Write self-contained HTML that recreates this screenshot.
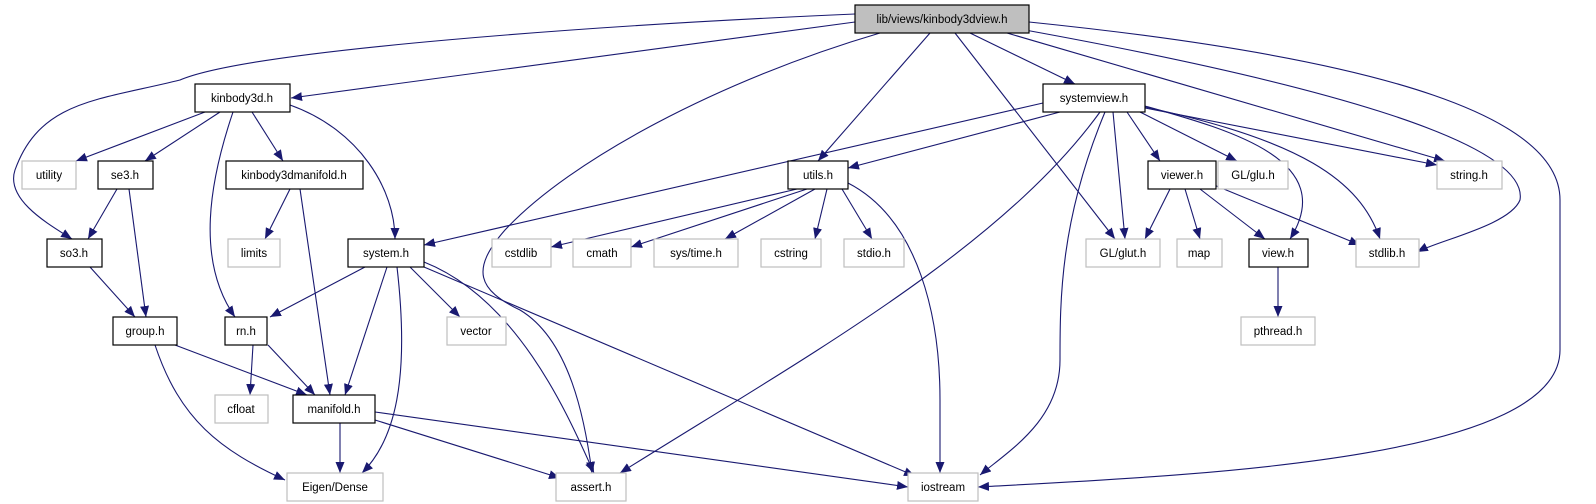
<!DOCTYPE html>
<html><head><meta charset="utf-8"><style>html,body{margin:0;padding:0;background:#fff}svg{display:block}</style></head>
<body>
<svg width="1596" height="504" viewBox="0 0 1596 504" xmlns="http://www.w3.org/2000/svg">
<defs><marker id="a" markerWidth="11" markerHeight="9" refX="11" refY="4.5" orient="auto" markerUnits="userSpaceOnUse"><path d="M0,0 L11,4.5 L0,9 z" fill="#191970"/></marker></defs>
<g fill="none" stroke="#191970" stroke-width="1.1" marker-end="url(#a)">
<path d="M855,22 L291,98"/>
<path d="M855,14 C600,25 250,50 180,80 C100,100 40,100 15,170 C5,200 50,225 72,239"/>
<path d="M880,33 C720,80 570,160 505,230 C470,270 478,290 520,310 C570,340 585,420 592,473"/>
<path d="M930,33 L818,161"/>
<path d="M955,33 L1115,239"/>
<path d="M970,33 L1075,84"/>
<path d="M1007,33 L1445,161"/>
<path d="M1025,30 C1300,80 1530,140 1520,200 C1510,225 1440,240 1417,252"/>
<path d="M1029,22 C1400,60 1560,120 1560,200 L1560,350 C1560,460 1200,475 978,487"/>
<path d="M205,112 L76,161"/>
<path d="M220,112 L145,161"/>
<path d="M233,112 C210,180 195,260 235,317"/>
<path d="M252,112 L283,161"/>
<path d="M290,105 C360,130 395,190 395,239"/>
<path d="M117,189 L88,239"/>
<path d="M129,189 L146,317"/>
<path d="M290,189 L265,239"/>
<path d="M300,189 L330,395"/>
<path d="M90,267 L135,317"/>
<path d="M365,267 L270,317"/>
<path d="M387,267 L345,395"/>
<path d="M397,267 C410,380 395,440 362,473"/>
<path d="M410,267 L460,317"/>
<path d="M424,262 C520,300 570,420 594,473"/>
<path d="M424,267 L915,476"/>
<path d="M175,345 L307,395"/>
<path d="M155,345 C180,420 220,450 285,480"/>
<path d="M253,345 L250,395"/>
<path d="M268,345 L315,395"/>
<path d="M340,423 L340,473"/>
<path d="M375,420 L560,478"/>
<path d="M375,412 L908,487"/>
<path d="M1043,103 L424,245"/>
<path d="M1060,112 L848,168"/>
<path d="M1100,112 C1000,250 800,360 620,473"/>
<path d="M1105,112 C1060,220 1060,300 1060,360 C1060,420 1010,450 980,475"/>
<path d="M1113,112 L1125,239"/>
<path d="M1127,112 L1160,161"/>
<path d="M1140,112 L1237,161"/>
<path d="M1145,108 L1437,165"/>
<path d="M1145,106 C1230,130 1340,160 1290,239"/>
<path d="M1145,107 C1300,140 1360,180 1380,239"/>
<path d="M1170,189 L1145,239"/>
<path d="M1185,189 L1200,239"/>
<path d="M1200,189 L1265,239"/>
<path d="M1214,185 L1360,245"/>
<path d="M1278,267 L1278,317"/>
<path d="M797,189 L551,247"/>
<path d="M807,189 L631,247"/>
<path d="M815,189 L725,239"/>
<path d="M827,189 L815,239"/>
<path d="M842,189 L872,239"/>
<path d="M848,183 C920,220 940,320 940,400 L940,473"/>
</g>
<g font-family="Liberation Sans, sans-serif" font-size="11.5" text-anchor="middle" fill="#000">
<g stroke="#000" stroke-width="1.2" fill="#fff">
<rect x="855" y="5" width="174" height="28" fill="#bfbfbf"/>
<rect x="195" y="84" width="95" height="28"/>
<rect x="1043" y="84" width="102" height="28"/>
<rect x="98" y="161" width="55" height="28"/>
<rect x="226" y="161" width="137" height="28"/>
<rect x="788" y="161" width="60" height="28"/>
<rect x="1148" y="161" width="68" height="28"/>
<rect x="47" y="239" width="55" height="28"/>
<rect x="348" y="239" width="76" height="28"/>
<rect x="1249" y="239" width="59" height="28"/>
<rect x="113" y="317" width="64" height="28"/>
<rect x="225" y="317" width="42" height="28"/>
<rect x="293" y="395" width="82" height="28"/>
</g>
<g stroke="#bfbfbf" stroke-width="1.2" fill="#fff">
<rect x="22" y="161" width="54" height="28"/>
<rect x="1218" y="161" width="70" height="28"/>
<rect x="1437" y="161" width="65" height="28"/>
<rect x="228" y="239" width="52" height="28"/>
<rect x="492" y="239" width="59" height="28"/>
<rect x="573" y="239" width="58" height="28"/>
<rect x="654" y="239" width="84" height="28"/>
<rect x="761" y="239" width="60" height="28"/>
<rect x="844" y="239" width="60" height="28"/>
<rect x="1086" y="239" width="74" height="28"/>
<rect x="1177" y="239" width="45" height="28"/>
<rect x="1356" y="239" width="63" height="28"/>
<rect x="447" y="317" width="59" height="28"/>
<rect x="1241" y="317" width="74" height="28"/>
<rect x="215" y="395" width="53" height="28"/>
<rect x="287" y="473" width="96" height="28"/>
<rect x="556" y="473" width="70" height="28"/>
<rect x="908" y="473" width="70" height="28"/>
</g>
<text x="942" y="23">lib/views/kinbody3dview.h</text>
<text x="242" y="102">kinbody3d.h</text>
<text x="1094" y="102">systemview.h</text>
<text x="49" y="179">utility</text>
<text x="125" y="179">se3.h</text>
<text x="294" y="179">kinbody3dmanifold.h</text>
<text x="818" y="179">utils.h</text>
<text x="1182" y="179">viewer.h</text>
<text x="1253" y="179">GL/glu.h</text>
<text x="1469" y="179">string.h</text>
<text x="74" y="257">so3.h</text>
<text x="254" y="257">limits</text>
<text x="386" y="257">system.h</text>
<text x="521" y="257">cstdlib</text>
<text x="602" y="257">cmath</text>
<text x="696" y="257">sys/time.h</text>
<text x="791" y="257">cstring</text>
<text x="874" y="257">stdio.h</text>
<text x="1123" y="257">GL/glut.h</text>
<text x="1199" y="257">map</text>
<text x="1278" y="257">view.h</text>
<text x="1387" y="257">stdlib.h</text>
<text x="145" y="335">group.h</text>
<text x="246" y="335">rn.h</text>
<text x="476" y="335">vector</text>
<text x="1278" y="335">pthread.h</text>
<text x="241" y="413">cfloat</text>
<text x="334" y="413">manifold.h</text>
<text x="335" y="491">Eigen/Dense</text>
<text x="591" y="491">assert.h</text>
<text x="943" y="491">iostream</text>
</g>
</svg>
</body></html>
